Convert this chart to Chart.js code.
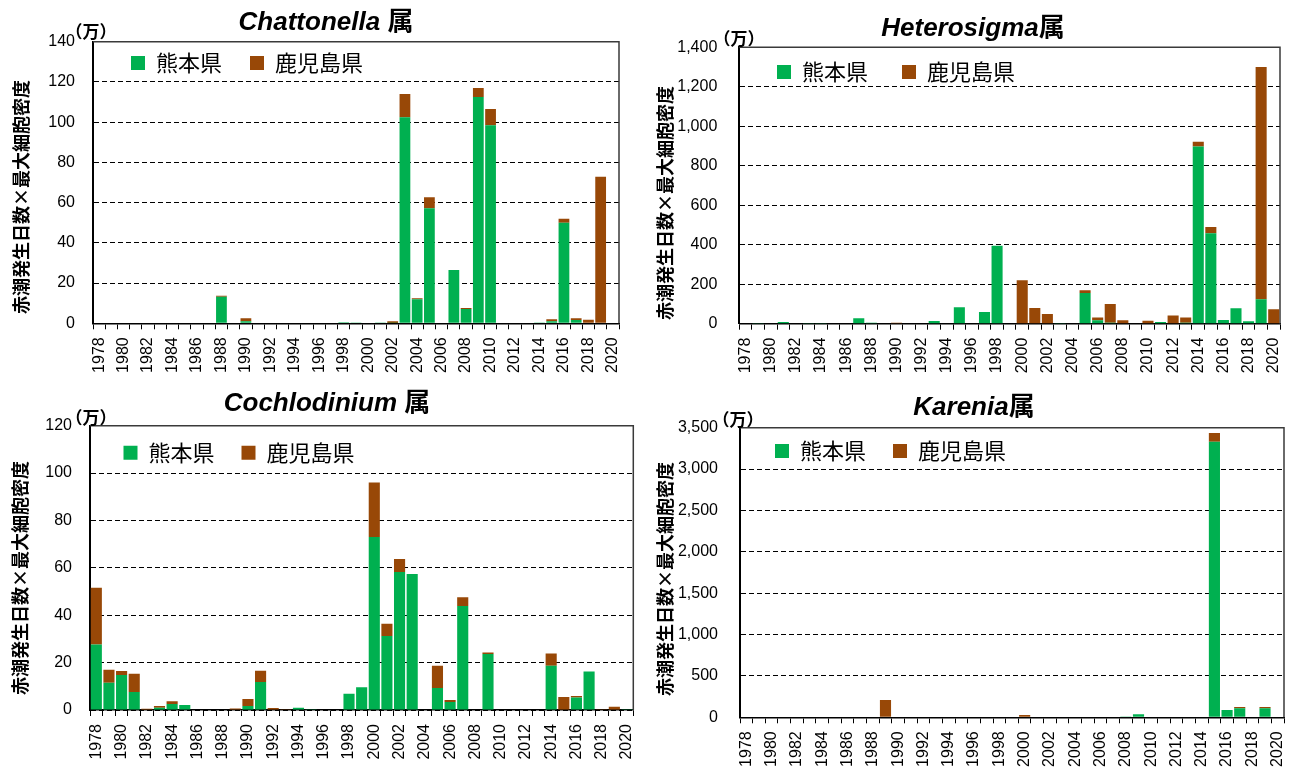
<!DOCTYPE html>
<html><head><meta charset="utf-8">
<script src="https://cdn.jsdelivr.net/npm/chart.js@4.4.1/dist/chart.umd.min.js"></script>
<style>
html,body{margin:0;padding:0;background:#fff;width:1293px;height:769px;overflow:hidden;position:relative;}
canvas{position:absolute;}
.title{position:absolute;font-family:"Liberation Sans","Noto Sans CJK JP",sans-serif;font-weight:bold;font-size:26px;white-space:nowrap;transform:translate(-50%,-50%);color:#000;line-height:1;}
.title i{font-style:italic}
.unit{position:absolute;font-family:"Noto Sans CJK JP";font-weight:bold;font-size:17px;transform:translate(-50%,-50%);white-space:nowrap;line-height:1;color:#000;}
.ytitle{position:absolute;font-family:"Noto Sans CJK JP";font-weight:bold;font-size:18px;white-space:nowrap;transform:translate(-50%,-50%) rotate(-90deg);line-height:1;color:#000;}
</style></head>
<body>
<canvas id="c1" width="646" height="384" style="left:0;top:0"></canvas>
<canvas id="c2" width="647" height="384" style="left:646px;top:0"></canvas>
<canvas id="c3" width="646" height="385" style="left:0;top:384px"></canvas>
<canvas id="c4" width="647" height="385" style="left:646px;top:384px"></canvas>

<div class="title" style="left:326px;top:21px"><i>Chattonella</i> 属</div>
<div class="title" style="left:973px;top:27px"><i>Heterosigma</i>属</div>
<div class="title" style="left:327px;top:402px"><i>Cochlodinium</i> 属</div>
<div class="title" style="left:974px;top:406px"><i>Karenia</i>属</div>

<div class="unit" style="left:91px;top:30px">（万）</div>
<div class="unit" style="left:739px;top:37px">（万）</div>
<div class="unit" style="left:91px;top:416px">（万）</div>
<div class="unit" style="left:738px;top:418px">（万）</div>

<div class="ytitle" style="left:20px;top:197px">赤潮発生日数×最大細胞密度</div>
<div class="ytitle" style="left:664px;top:203px">赤潮発生日数×最大細胞密度</div>
<div class="ytitle" style="left:19px;top:578px">赤潮発生日数×最大細胞密度</div>
<div class="ytitle" style="left:664px;top:579px">赤潮発生日数×最大細胞密度</div>

<script>
// ---- data (万) ----
const years = ['1978','1979','1980','1981','1982','1983','1984','1985','1986','1987',
  '1988','1989','1990','1991','1992','1993','1994','1995','1996','1997',
  '1998','1999','2000','2001','2002','2003','2004','2005','2006','2007',
  '2008','2009','2010','2011','2012','2013','2014','2015','2016','2017',
  '2018','2019','2020'];
const xTickLabels = ['1978','1980','1982','1984','1986','1988','1990','1992','1994','1996','1998',
  '2000','2002','2004','2006','2008','2010','2012','2014','2016','2018','2020'];
const seriesNames = ['熊本県','鹿児島県'];

const chattonellaKumamoto = [0,0.3,0,0,0,0,0,0,0,0, 13.2,0,1,0,0,0,0,0,0,0, 0.5,0.2,0,0.2,0.2,102.4,12,57.2,0,26.5, 7.1,112.5,98.5,0,0,0,0.2,1,50,1.6, 0,0,0];
const chattonellaKagoshima = [0,0,0,0,0,0,0,0,0,0, 0.5,0.3,1.5,0,0.3,0,0,0,0,0, 0,0,0,0,0.8,11.6,0.5,5.5,0.3,0, 0.5,4.5,8.1,0,0,0,0,1,2,0.9, 1.8,72.9,0];
const chattonellaYTicks = [0,20,40,60,80,100,120,140];

const heterosigmaKumamoto = [0,3,0,9,0,3,3,0,0,28, 5,0,0,0,0,14,0,83,0,59, 395,0,0,0,0,3,0,155,18,5, 2,0,0,8,0,5,898,458,19,78, 12,124,0];
const heterosigmaKagoshima = [0,0,0,0,0,0,0,0,0,0, 0,0,5,0,0,0,0,0,0,0, 0,0,220,80,49,0,0,15,14,95, 15,0,15,0,42,27,24,32,0,0, 0,1176,73];
const heterosigmaYTicks = [0,200,400,600,800,1000,1200,1400];

const cochlodiniumKumamoto = [27.6,11.5,14.8,7.6,0,1,2.5,2.1,0,0, 0,0,1.7,11.8,0,0,1,0.3,0,0, 6.9,9.6,73,31.2,58.3,57.4,0,9.3,3.4,43.9, 0,23.6,0,0,0.2,0,18.7,0,5.3,16.2, 0,0,0.3];
const cochlodiniumKagoshima = [24,5.5,1.7,7.7,0.5,0.7,1.2,0,0,0, 0,0.6,2.9,4.8,0.8,0.3,0,0,0,0, 0,0,23,5.2,5.4,0,0,9.4,0.8,3.7, 0,0.7,0,0,0,0,5.1,5.5,0.6,0, 0.3,1.4,0];
const cochlodiniumYTicks = [0,20,40,60,80,100,120];

const kareniaKumamoto = [0,0,0,0,0,0,0,0,0,0, 0,0,0,0,0,0,0,0,0,0, 0,0,0,0,0,0,0,0,0,0, 5,36,0,0,0,0,0,3330,88,108, 0,108,0];
const kareniaKagoshima = [0,0,0,0,0,0,0,0,0,0, 0,210,0,0,0,0,0,0,0,0, 0,0,28,0,0,0,0,0,0,0, 0,0,0,0,0,0,0,105,0,17, 0,17,0];
const kareniaYTicks = [0,500,1000,1500,2000,2500,3000,3500];

// ---- styling ----
const GREEN = '#00B050';
const BROWN = '#984807';
const TICK_FONT = {family:'"Liberation Sans", Arial, sans-serif', size:16};

const frame = {
  id:'frame',
  beforeDatasetsDraw(chart){
    const {ctx, chartArea:a} = chart;
    ctx.save();
    ctx.strokeStyle = '#3a3a3a';
    ctx.lineWidth = 1.5;
    ctx.beginPath();
    ctx.moveTo(a.left, a.top);
    ctx.lineTo(a.right, a.top);
    ctx.lineTo(a.right, a.bottom);
    ctx.stroke();
    ctx.restore();
  }
};

const legendPlacer = {
  id:'legendPlacer',
  beforeInit(chart){
    const lg = chart.legend;
    if (!lg) return;
    const fit = lg.fit;
    lg.fit = function(){ fit.call(this); this.height = 0; };
  },
  afterLayout(chart, args, opts){
    const lg = chart.legend;
    if (!lg) return;
    const pad = chart.options.plugins.legend.labels.padding;
    const fs = chart.options.plugins.legend.labels.font.size;
    const bh = chart.options.plugins.legend.labels.boxHeight;
    lg.left = opts.x - pad;
    lg.right = lg.left + 900;
    lg.top = opts.y - pad - Math.max((fs - bh) / 2, 0);
    lg.bottom = lg.top + 200;
    lg.width = 900; lg.height = 200;
  }
};

function makeChart(id, kum, kag, yTicks, area, legendBox, legendGap, yLabelPad, commas){
  const cv = document.getElementById(id);
  const W = cv.width, H = cv.height;
  return new Chart(cv, {
    type:'bar',
    data:{
      labels: years,
      datasets:[
        {label: seriesNames[0], data: kum, backgroundColor: GREEN, borderWidth:0, barPercentage:0.88, categoryPercentage:1},
        {label: seriesNames[1], data: kag, backgroundColor: BROWN, borderWidth:0, barPercentage:0.88, categoryPercentage:1}
      ]
    },
    options:{
      responsive:false,
      animation:false,
      devicePixelRatio:1,
      layout:{padding:{left:0, top:area.top, right:W - area.right, bottom:0}},
      plugins:{
        legend:{
          display:true, position:'top', align:'start',
          labels:{boxWidth:14, boxHeight:14, padding:legendGap, color:'#000',
            font:{family:'"Noto Sans CJK JP", sans-serif', size:22}}
        },
        legendPlacer:{x:legendBox.x, y:legendBox.y},
        tooltip:{enabled:false},
        title:{display:false}
      },
      scales:{
        x:{
          stacked:true,
          grid:{offset:true, drawOnChartArea:false, color:'#000', lineWidth:1, tickLength:6},
          border:{color:'#000', width:1.5},
          ticks:{autoSkip:false, maxRotation:90, minRotation:90, padding:8, color:'#000', font:TICK_FONT,
            callback:(v, i) => xTickLabels.includes(years[i]) ? years[i] : ''},
          afterFit:(s) => { s.height = H - area.bottom; s.paddingLeft = 0; s.paddingRight = 0; }
        },
        y:{
          stacked:true,
          min: yTicks[0], max: yTicks[yTicks.length - 1],
          ticks:{stepSize: yTicks[1] - yTicks[0], padding: yLabelPad, color:'#000', font:TICK_FONT,
            callback:(v) => commas ? Number(v).toLocaleString('en-US') : v},
          grid:{color:'#000', lineWidth:1, drawTicks:false},
          border:{color:'#000', width:2, dash:[5,3]},
          afterFit:(s) => { s.width = area.left; s.paddingTop = 0; s.paddingBottom = 0; }
        }
      }
    },
    plugins:[frame, legendPlacer]
  });
}

makeChart('c1', chattonellaKumamoto, chattonellaKagoshima, chattonellaYTicks,
  {left:93, right:619, top:41.7, bottom:323.3}, {x:131, y:56}, 28, 18, false);
makeChart('c2', heterosigmaKumamoto, heterosigmaKagoshima, heterosigmaYTicks,
  {left:93.3, right:634, top:47.3, bottom:323.7}, {x:131, y:65}, 34, 22, true);
makeChart('c3', cochlodiniumKumamoto, cochlodiniumKagoshima, cochlodiniumYTicks,
  {left:90, right:633.3, top:41.7, bottom:326}, {x:123.5, y:61.7}, 27, 18, false);
makeChart('c4', kareniaKumamoto, kareniaKagoshima, kareniaYTicks,
  {left:94, right:638, top:43.7, bottom:333.3}, {x:129, y:60}, 27, 22, true);
</script>
</body></html>
